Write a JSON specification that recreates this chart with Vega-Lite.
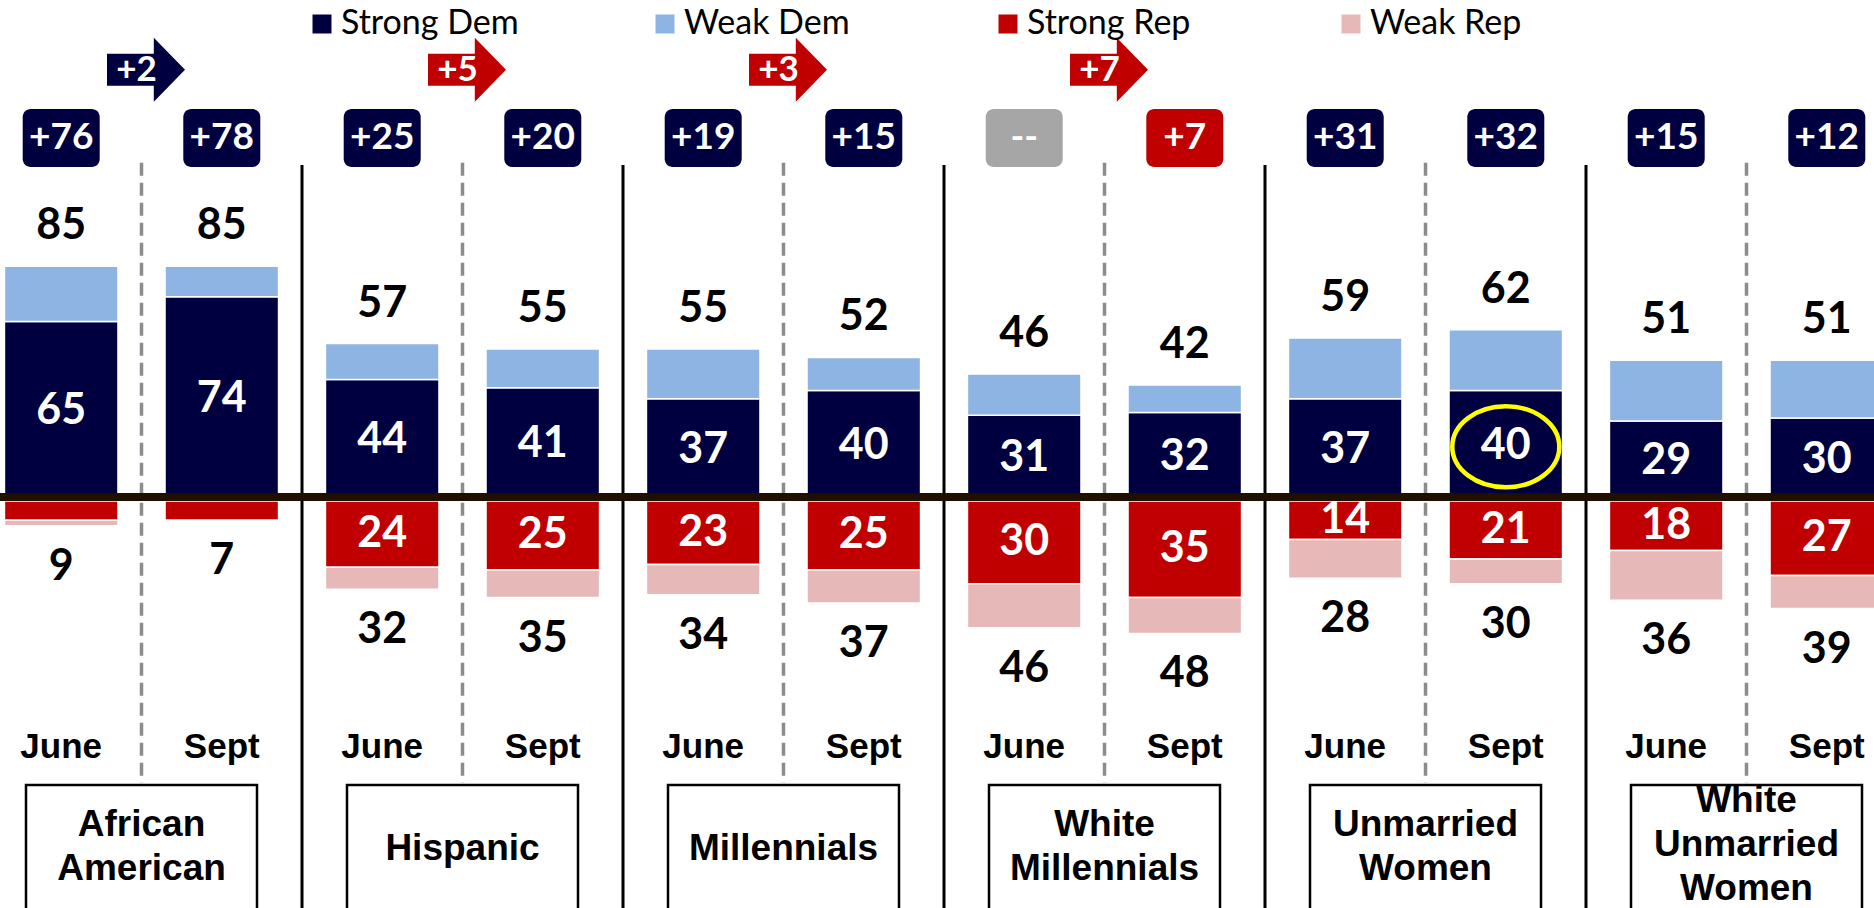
{
"$schema": "https://vega.github.io/schema/vega-lite/v6.json",
"width": 1874, "height": 908, "autosize": {"type": "none"}, "padding": 0,
"config": {"view": {"stroke": null}, "font": "Lato"},
"datasets": {
"groups": [{"group": "African American"}, {"group": "Hispanic"}, {"group": "Millennials"}, {"group": "White Millennials"}, {"group": "Unmarried Women"}, {"group": "White Unmarried Women"}],
"margins": [
{"group": "African American", "month": "June", "margin": "+76", "leader": "Dem"},
{"group": "African American", "month": "Sept", "margin": "+78", "leader": "Dem"},
{"group": "Hispanic", "month": "June", "margin": "+25", "leader": "Dem"},
{"group": "Hispanic", "month": "Sept", "margin": "+20", "leader": "Dem"},
{"group": "Millennials", "month": "June", "margin": "+19", "leader": "Dem"},
{"group": "Millennials", "month": "Sept", "margin": "+15", "leader": "Dem"},
{"group": "White Millennials", "month": "June", "margin": "--", "leader": "Tie"},
{"group": "White Millennials", "month": "Sept", "margin": "+7", "leader": "Rep"},
{"group": "Unmarried Women", "month": "June", "margin": "+31", "leader": "Dem"},
{"group": "Unmarried Women", "month": "Sept", "margin": "+32", "leader": "Dem"},
{"group": "White Unmarried Women", "month": "June", "margin": "+15", "leader": "Dem"},
{"group": "White Unmarried Women", "month": "Sept", "margin": "+12", "leader": "Dem"}
],
"shifts": [
{"group": "African American", "shift": "+2", "leader": "Dem"},
{"group": "Hispanic", "shift": "+5", "leader": "Rep"},
{"group": "Millennials", "shift": "+3", "leader": "Rep"},
{"group": "White Millennials", "shift": "+7", "leader": "Rep"}
],
"shares": [
{"group": "African American", "month": "June", "party": "Strong Dem", "pct": 65},
{"group": "African American", "month": "June", "party": "Weak Dem", "pct": 20},
{"group": "African American", "month": "June", "party": "Strong Rep", "pct": 7},
{"group": "African American", "month": "June", "party": "Weak Rep", "pct": 2},
{"group": "African American", "month": "Sept", "party": "Strong Dem", "pct": 74},
{"group": "African American", "month": "Sept", "party": "Weak Dem", "pct": 11},
{"group": "African American", "month": "Sept", "party": "Strong Rep", "pct": 7},
{"group": "African American", "month": "Sept", "party": "Weak Rep", "pct": 0},
{"group": "Hispanic", "month": "June", "party": "Strong Dem", "pct": 44},
{"group": "Hispanic", "month": "June", "party": "Weak Dem", "pct": 13},
{"group": "Hispanic", "month": "June", "party": "Strong Rep", "pct": 24},
{"group": "Hispanic", "month": "June", "party": "Weak Rep", "pct": 8},
{"group": "Hispanic", "month": "Sept", "party": "Strong Dem", "pct": 41},
{"group": "Hispanic", "month": "Sept", "party": "Weak Dem", "pct": 14},
{"group": "Hispanic", "month": "Sept", "party": "Strong Rep", "pct": 25},
{"group": "Hispanic", "month": "Sept", "party": "Weak Rep", "pct": 10},
{"group": "Millennials", "month": "June", "party": "Strong Dem", "pct": 37},
{"group": "Millennials", "month": "June", "party": "Weak Dem", "pct": 18},
{"group": "Millennials", "month": "June", "party": "Strong Rep", "pct": 23},
{"group": "Millennials", "month": "June", "party": "Weak Rep", "pct": 11},
{"group": "Millennials", "month": "Sept", "party": "Strong Dem", "pct": 40},
{"group": "Millennials", "month": "Sept", "party": "Weak Dem", "pct": 12},
{"group": "Millennials", "month": "Sept", "party": "Strong Rep", "pct": 25},
{"group": "Millennials", "month": "Sept", "party": "Weak Rep", "pct": 12},
{"group": "White Millennials", "month": "June", "party": "Strong Dem", "pct": 31},
{"group": "White Millennials", "month": "June", "party": "Weak Dem", "pct": 15},
{"group": "White Millennials", "month": "June", "party": "Strong Rep", "pct": 30},
{"group": "White Millennials", "month": "June", "party": "Weak Rep", "pct": 16},
{"group": "White Millennials", "month": "Sept", "party": "Strong Dem", "pct": 32},
{"group": "White Millennials", "month": "Sept", "party": "Weak Dem", "pct": 10},
{"group": "White Millennials", "month": "Sept", "party": "Strong Rep", "pct": 35},
{"group": "White Millennials", "month": "Sept", "party": "Weak Rep", "pct": 13},
{"group": "Unmarried Women", "month": "June", "party": "Strong Dem", "pct": 37},
{"group": "Unmarried Women", "month": "June", "party": "Weak Dem", "pct": 22},
{"group": "Unmarried Women", "month": "June", "party": "Strong Rep", "pct": 14},
{"group": "Unmarried Women", "month": "June", "party": "Weak Rep", "pct": 14},
{"group": "Unmarried Women", "month": "Sept", "party": "Strong Dem", "pct": 40},
{"group": "Unmarried Women", "month": "Sept", "party": "Weak Dem", "pct": 22},
{"group": "Unmarried Women", "month": "Sept", "party": "Strong Rep", "pct": 21},
{"group": "Unmarried Women", "month": "Sept", "party": "Weak Rep", "pct": 9},
{"group": "White Unmarried Women", "month": "June", "party": "Strong Dem", "pct": 29},
{"group": "White Unmarried Women", "month": "June", "party": "Weak Dem", "pct": 22},
{"group": "White Unmarried Women", "month": "June", "party": "Strong Rep", "pct": 18},
{"group": "White Unmarried Women", "month": "June", "party": "Weak Rep", "pct": 18},
{"group": "White Unmarried Women", "month": "Sept", "party": "Strong Dem", "pct": 30},
{"group": "White Unmarried Women", "month": "Sept", "party": "Weak Dem", "pct": 21},
{"group": "White Unmarried Women", "month": "Sept", "party": "Strong Rep", "pct": 27},
{"group": "White Unmarried Women", "month": "Sept", "party": "Weak Rep", "pct": 12}
]
},
"resolve": {"scale": {"y": "independent"}},
"layer": [
{
"layer": [
{"data": {"name": "groups"},
 "mark": {"type": "rule", "color": "#000000", "strokeWidth": 3},
 "encoding": {
  "x": {"field": "group", "type": "nominal", "bandPosition": 0, "scale": {"domain": ["African American", "Hispanic", "Millennials", "White Millennials", "Unmarried Women", "White Unmarried Women"], "range": [-19, 1907], "paddingInner": 0, "paddingOuter": 0}, "axis": null},
  "y": {"datum": 121.7, "type": "quantitative", "scale": {"domain": [-147.5, 181.5], "nice": false, "zero": false}, "axis": null},
  "y2": {"datum": -170}}},
{"data": {"name": "groups"},
 "mark": {"type": "rule", "color": "#8C8C8C", "strokeWidth": 3.5, "strokeDash": [13, 7]},
 "encoding": {
  "x": {"field": "group", "type": "nominal", "bandPosition": 0.5, "scale": {"domain": ["African American", "Hispanic", "Millennials", "White Millennials", "Unmarried Women", "White Unmarried Women"], "range": [-19, 1907], "paddingInner": 0, "paddingOuter": 0}, "axis": null},
  "y": {"datum": 122.5, "type": "quantitative", "scale": {"domain": [-147.5, 181.5], "nice": false, "zero": false}, "axis": null},
  "y2": {"datum": -102.2}}},
{"data": {"name": "groups"},
 "mark": {"type": "bar", "width": 231, "fill": "#FFFFFF", "stroke": "#000000", "strokeWidth": 2.5},
 "encoding": {
  "x": {"field": "group", "type": "nominal", "scale": {"domain": ["African American", "Hispanic", "Millennials", "White Millennials", "Unmarried Women", "White Unmarried Women"], "range": [-19, 1907], "paddingInner": 0, "paddingOuter": 0}, "axis": null},
  "y": {"datum": -102.9, "type": "quantitative", "scale": {"domain": [-147.5, 181.5], "nice": false, "zero": false}, "axis": null},
  "y2": {"datum": -175}}},
{"data": {"name": "groups"},
 "transform": [{"filter": {"field": "group", "oneOf": ["Hispanic", "Millennials"]}}],
 "mark": {"type": "text", "font": "Liberation Sans", "fontWeight": "bold", "fontSize": 37, "lineBreak": " ", "lineHeight": 44, "baseline": "middle", "color": "#000000"},
 "encoding": {
  "x": {"field": "group", "type": "nominal", "scale": {"domain": ["African American", "Hispanic", "Millennials", "White Millennials", "Unmarried Women", "White Unmarried Women"], "range": [-19, 1907], "paddingInner": 0, "paddingOuter": 0}, "axis": null},
  "y": {"datum": -126.1, "type": "quantitative", "scale": {"domain": [-147.5, 181.5], "nice": false, "zero": false}, "axis": null},
  "text": {"field": "group"}}},
{"data": {"name": "groups"},
 "transform": [{"filter": {"field": "group", "oneOf": ["African American", "White Millennials", "Unmarried Women"]}}],
 "mark": {"type": "text", "font": "Liberation Sans", "fontWeight": "bold", "fontSize": 37, "lineBreak": " ", "lineHeight": 44, "baseline": "middle", "color": "#000000"},
 "encoding": {
  "x": {"field": "group", "type": "nominal", "scale": {"domain": ["African American", "Hispanic", "Millennials", "White Millennials", "Unmarried Women", "White Unmarried Women"], "range": [-19, 1907], "paddingInner": 0, "paddingOuter": 0}, "axis": null},
  "y": {"datum": -117.4, "type": "quantitative", "scale": {"domain": [-147.5, 181.5], "nice": false, "zero": false}, "axis": null},
  "text": {"field": "group"}}},
{"data": {"name": "groups"},
 "transform": [{"filter": {"field": "group", "oneOf": ["White Unmarried Women"]}}],
 "mark": {"type": "text", "font": "Liberation Sans", "fontWeight": "bold", "fontSize": 37, "lineBreak": " ", "lineHeight": 44, "baseline": "middle", "color": "#000000"},
 "encoding": {
  "x": {"field": "group", "type": "nominal", "scale": {"domain": ["African American", "Hispanic", "Millennials", "White Millennials", "Unmarried Women", "White Unmarried Women"], "range": [-19, 1907], "paddingInner": 0, "paddingOuter": 0}, "axis": null},
  "y": {"datum": -108.7, "type": "quantitative", "scale": {"domain": [-147.5, 181.5], "nice": false, "zero": false}, "axis": null},
  "text": {"field": "group"}}},
{"data": {"name": "margins"},
 "mark": {"type": "text", "font": "Liberation Sans", "fontWeight": "bold", "fontSize": 35, "baseline": "middle", "color": "#000000"},
 "encoding": {
  "x": {"field": "group", "type": "nominal", "scale": {"domain": ["African American", "Hispanic", "Millennials", "White Millennials", "Unmarried Women", "White Unmarried Women"], "range": [-19, 1907], "paddingInner": 0, "paddingOuter": 0}, "axis": null},
  "xOffset": {"field": "month", "type": "nominal", "scale": {"domain": ["June", "Sept"], "paddingInner": 0.293, "paddingOuter": 0.146}},
  "y": {"datum": -89.3, "type": "quantitative", "scale": {"domain": [-147.5, 181.5], "nice": false, "zero": false}, "axis": null},
  "text": {"field": "month"}}},
{"data": {"name": "margins"},
 "mark": {"type": "bar", "width": 77, "cornerRadius": 8},
 "encoding": {
  "x": {"field": "group", "type": "nominal", "scale": {"domain": ["African American", "Hispanic", "Millennials", "White Millennials", "Unmarried Women", "White Unmarried Women"], "range": [-19, 1907], "paddingInner": 0, "paddingOuter": 0}, "axis": null},
  "xOffset": {"field": "month", "type": "nominal", "scale": {"domain": ["June", "Sept"], "paddingInner": 0.293, "paddingOuter": 0.146}},
  "y": {"datum": 142.0, "type": "quantitative", "scale": {"domain": [-147.5, 181.5], "nice": false, "zero": false}, "axis": null},
  "y2": {"datum": 121.0},
  "fill": {"field": "leader", "type": "nominal", "scale": {"domain": ["Dem", "Rep", "Tie"], "range": ["#000040", "#C00000", "#A6A6A6"]}, "legend": null}}},
{"data": {"name": "margins"},
 "mark": {"type": "text", "fontWeight": "bold", "fontSize": 37, "baseline": "middle", "color": "#FFFFFF"},
 "encoding": {
  "x": {"field": "group", "type": "nominal", "scale": {"domain": ["African American", "Hispanic", "Millennials", "White Millennials", "Unmarried Women", "White Unmarried Women"], "range": [-19, 1907], "paddingInner": 0, "paddingOuter": 0}, "axis": null},
  "xOffset": {"field": "month", "type": "nominal", "scale": {"domain": ["June", "Sept"], "paddingInner": 0.293, "paddingOuter": 0.146}},
  "y": {"datum": 131.5, "type": "quantitative", "scale": {"domain": [-147.5, 181.5], "nice": false, "zero": false}, "axis": null},
  "text": {"field": "margin"}}},
{"data": {"name": "shifts"},
 "mark": {"type": "point", "shape": "M-1,-0.41 L0.2,-0.41 L0.2,-0.82 L1,0 L0.2,0.82 L0.2,0.41 L-1,0.41 Z", "size": 6084, "filled": true, "opacity": 1, "strokeWidth": 0, "xOffset": 4.5},
 "encoding": {
  "x": {"field": "group", "type": "nominal", "bandPosition": 0.5, "scale": {"domain": ["African American", "Hispanic", "Millennials", "White Millennials", "Unmarried Women", "White Unmarried Women"], "range": [-19, 1907], "paddingInner": 0, "paddingOuter": 0}, "axis": null},
  "y": {"datum": 156.2, "type": "quantitative", "scale": {"domain": [-147.5, 181.5], "nice": false, "zero": false}, "axis": null},
  "fill": {"field": "leader", "type": "nominal", "scale": {"domain": ["Dem", "Rep", "Tie"], "range": ["#000040", "#C00000", "#A6A6A6"]}, "legend": null}}},
{"data": {"name": "shifts"},
 "mark": {"type": "text", "fontWeight": "bold", "fontSize": 35, "baseline": "middle", "color": "#FFFFFF", "dx": -5},
 "encoding": {
  "x": {"field": "group", "type": "nominal", "bandPosition": 0.5, "scale": {"domain": ["African American", "Hispanic", "Millennials", "White Millennials", "Unmarried Women", "White Unmarried Women"], "range": [-19, 1907], "paddingInner": 0, "paddingOuter": 0}, "axis": null},
  "y": {"datum": 156.2, "type": "quantitative", "scale": {"domain": [-147.5, 181.5], "nice": false, "zero": false}, "axis": null},
  "text": {"field": "shift"}}},
{"data": {"name": "shares"},
 "transform": [{"filter": {"field": "party", "oneOf": ["Strong Dem", "Weak Dem"]}}],
 "mark": {"type": "bar", "stroke": "#FFFFFF", "strokeWidth": 1.5},
 "encoding": {
  "x": {"field": "group", "type": "nominal", "scale": {"domain": ["African American", "Hispanic", "Millennials", "White Millennials", "Unmarried Women", "White Unmarried Women"], "range": [-19, 1907], "paddingInner": 0, "paddingOuter": 0}, "axis": null},
  "xOffset": {"field": "month", "type": "nominal", "scale": {"domain": ["June", "Sept"], "paddingInner": 0.293, "paddingOuter": 0.146}},
  "y": {"field": "pct", "type": "quantitative", "stack": "zero", "scale": {"domain": [-147.5, 181.5], "nice": false, "zero": false}, "axis": null},
  "order": {"field": "party", "sort": "ascending"},
  "color": {"field": "party", "type": "nominal", "scale": {"domain": ["Strong Dem", "Weak Dem", "Strong Rep", "Weak Rep"], "range": ["#000040", "#8EB4E3", "#C00000", "#E6B9B8"]},
   "legend": {"title": null, "orient": "none", "legendX": 305, "legendY": 7, "direction": "horizontal", "columns": 4, "gridAlign": "all", "columnPadding": 129, "symbolType": "square", "symbolSize": 361, "symbolStrokeWidth": 0, "labelFont": "Lato", "labelFontSize": 34, "labelColor": "#000000", "labelOffset": 2, "labelLimit": 400, "padding": 0}}}},
{"data": {"name": "shares"},
 "transform": [{"filter": {"field": "party", "oneOf": ["Strong Dem", "Weak Dem"]}}, {"aggregate": [{"op": "sum", "field": "pct", "as": "total"}], "groupby": ["group", "month"]}],
 "mark": {"type": "text", "fontWeight": "bold", "fontSize": 43, "baseline": "middle", "color": "#000000", "dy": -40},
 "encoding": {
  "x": {"field": "group", "type": "nominal", "scale": {"domain": ["African American", "Hispanic", "Millennials", "White Millennials", "Unmarried Women", "White Unmarried Women"], "range": [-19, 1907], "paddingInner": 0, "paddingOuter": 0}, "axis": null},
  "xOffset": {"field": "month", "type": "nominal", "scale": {"domain": ["June", "Sept"], "paddingInner": 0.293, "paddingOuter": 0.146}},
  "y": {"field": "total", "type": "quantitative", "scale": {"domain": [-147.5, 181.5], "nice": false, "zero": false}, "axis": null},
  "text": {"field": "total", "type": "quantitative"}}}
]
},
{
"layer": [
{"data": {"name": "shares"},
 "transform": [{"filter": {"field": "party", "oneOf": ["Strong Rep", "Weak Rep"]}}],
 "mark": {"type": "bar", "stroke": "#FFFFFF", "strokeWidth": 1.5},
 "encoding": {
  "x": {"field": "group", "type": "nominal", "scale": {"domain": ["African American", "Hispanic", "Millennials", "White Millennials", "Unmarried Women", "White Unmarried Women"], "range": [-19, 1907], "paddingInner": 0, "paddingOuter": 0}, "axis": null},
  "xOffset": {"field": "month", "type": "nominal", "scale": {"domain": ["June", "Sept"], "paddingInner": 0.293, "paddingOuter": 0.146}},
  "y": {"field": "pct", "type": "quantitative", "stack": "zero", "scale": {"domain": [-181.5, 147.5], "reverse": true, "nice": false, "zero": false}, "axis": null},
  "order": {"field": "party", "sort": "ascending"},
  "color": {"field": "party", "type": "nominal", "scale": {"domain": ["Strong Dem", "Weak Dem", "Strong Rep", "Weak Rep"], "range": ["#000040", "#8EB4E3", "#C00000", "#E6B9B8"]}}}},
{"data": {"name": "shares"},
 "transform": [{"filter": {"field": "party", "oneOf": ["Strong Rep", "Weak Rep"]}}, {"aggregate": [{"op": "sum", "field": "pct", "as": "total"}], "groupby": ["group", "month"]}],
 "mark": {"type": "text", "fontWeight": "bold", "fontSize": 43, "baseline": "middle", "color": "#000000", "dy": 41},
 "encoding": {
  "x": {"field": "group", "type": "nominal", "scale": {"domain": ["African American", "Hispanic", "Millennials", "White Millennials", "Unmarried Women", "White Unmarried Women"], "range": [-19, 1907], "paddingInner": 0, "paddingOuter": 0}, "axis": null},
  "xOffset": {"field": "month", "type": "nominal", "scale": {"domain": ["June", "Sept"], "paddingInner": 0.293, "paddingOuter": 0.146}},
  "y": {"field": "total", "type": "quantitative", "scale": {"domain": [-181.5, 147.5], "reverse": true, "nice": false, "zero": false}, "axis": null},
  "text": {"field": "total", "type": "quantitative"}}}
]
},
{
"layer": [
{"data": {"name": "shares"},
 "transform": [{"filter": {"field": "party", "equal": "Strong Dem"}}],
 "mark": {"type": "text", "fontWeight": "bold", "fontSize": 43, "baseline": "middle", "color": "#FFFFFF"},
 "encoding": {
  "x": {"field": "group", "type": "nominal", "scale": {"domain": ["African American", "Hispanic", "Millennials", "White Millennials", "Unmarried Women", "White Unmarried Women"], "range": [-19, 1907], "paddingInner": 0, "paddingOuter": 0}, "axis": null},
  "xOffset": {"field": "month", "type": "nominal", "scale": {"domain": ["June", "Sept"], "paddingInner": 0.293, "paddingOuter": 0.146}},
  "y": {"field": "pct", "type": "quantitative", "scale": {"domain": [-295, 363], "nice": false, "zero": false}, "axis": null},
  "text": {"field": "pct", "type": "quantitative"}}},
{"data": {"name": "shares"},
 "transform": [{"filter": "datum.party === 'Strong Dem' && datum.group === 'Unmarried Women' && datum.month === 'Sept'"}],
 "mark": {"type": "point", "shape": "M-1,0 A1,0.757 0 1,1 1,0 A1,0.757 0 1,1 -1,0 Z", "size": 11449, "filled": false, "opacity": 1, "color": "#FFFF00", "strokeWidth": 4.5, "yOffset": 1},
 "encoding": {
  "x": {"field": "group", "type": "nominal", "scale": {"domain": ["African American", "Hispanic", "Millennials", "White Millennials", "Unmarried Women", "White Unmarried Women"], "range": [-19, 1907], "paddingInner": 0, "paddingOuter": 0}, "axis": null},
  "xOffset": {"field": "month", "type": "nominal", "scale": {"domain": ["June", "Sept"], "paddingInner": 0.293, "paddingOuter": 0.146}},
  "y": {"field": "pct", "type": "quantitative", "scale": {"domain": [-295, 363], "nice": false, "zero": false}, "axis": null}}}
]
},
{
"layer": [
{"data": {"name": "shares"},
 "transform": [{"filter": "datum.party === 'Strong Rep' && datum.pct >= 10"}],
 "mark": {"type": "text", "fontWeight": "bold", "fontSize": 43, "baseline": "middle", "color": "#FFFFFF"},
 "encoding": {
  "x": {"field": "group", "type": "nominal", "scale": {"domain": ["African American", "Hispanic", "Millennials", "White Millennials", "Unmarried Women", "White Unmarried Women"], "range": [-19, 1907], "paddingInner": 0, "paddingOuter": 0}, "axis": null},
  "xOffset": {"field": "month", "type": "nominal", "scale": {"domain": ["June", "Sept"], "paddingInner": 0.293, "paddingOuter": 0.146}},
  "y": {"field": "pct", "type": "quantitative", "scale": {"domain": [-363, 295], "reverse": true, "nice": false, "zero": false}, "axis": null},
  "text": {"field": "pct", "type": "quantitative"}}},
{"data": {"name": "shares"},
 "mark": {"type": "rule", "color": "#1F1000", "strokeWidth": 7},
 "encoding": {
  "y": {"datum": -2.9, "type": "quantitative", "scale": {"domain": [-363, 295], "reverse": true, "nice": false, "zero": false}, "axis": null}}}
]
}
]
}
